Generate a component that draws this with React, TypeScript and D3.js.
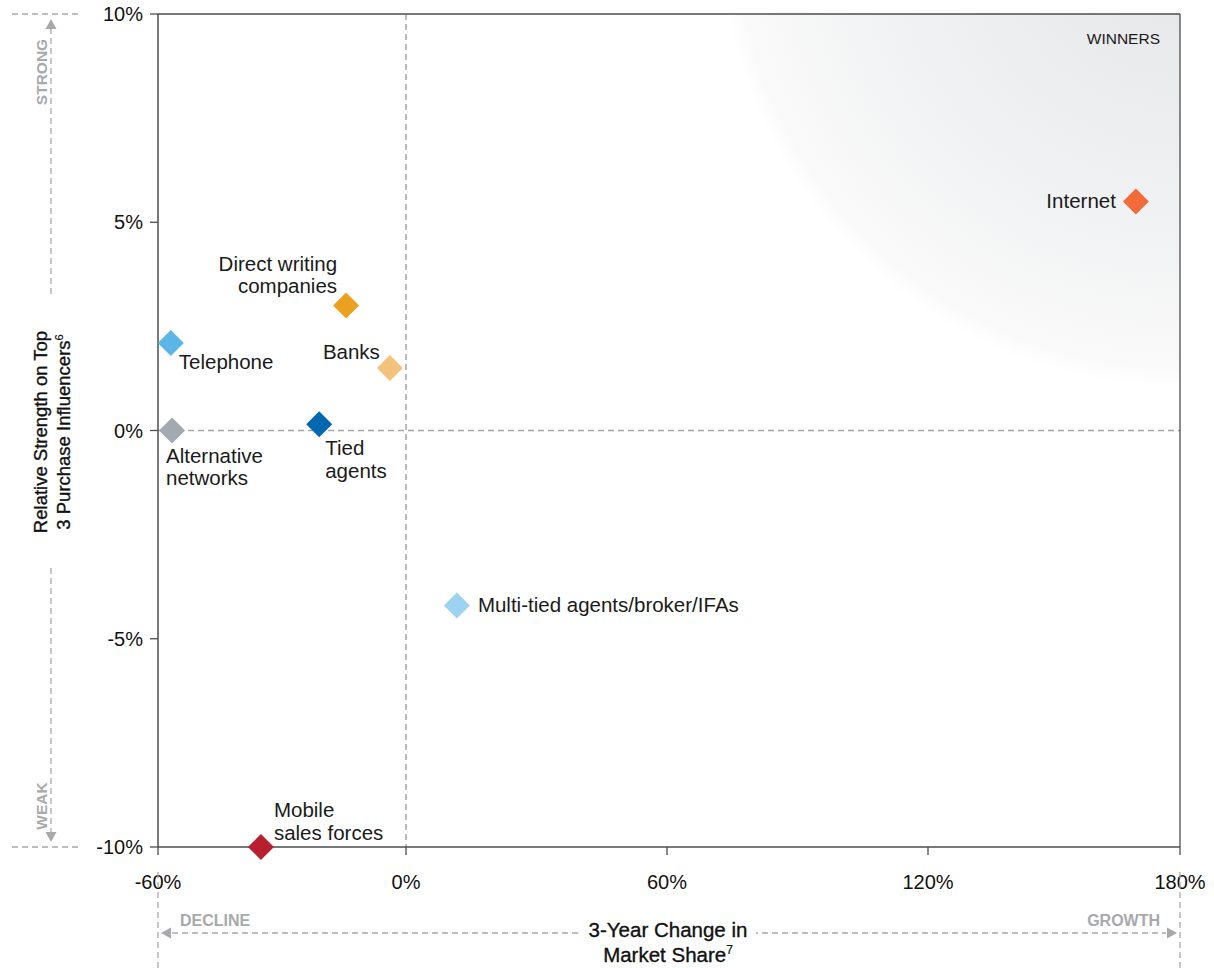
import React from "react";
import * as d3 from "d3";

const channels = [
  "Internet",
  "Direct writing companies",
  "Banks",
  "Telephone",
  "Alternative networks",
  "Tied agents",
  "Multi-tied agents/broker/IFAs",
  "Mobile sales forces",
];
const labelLines = [
  ["Internet"],
  ["Direct writing", "companies"],
  ["Banks"],
  ["Telephone"],
  ["Alternative", "networks"],
  ["Tied", "agents"],
  ["Multi-tied agents/broker/IFAs"],
  ["Mobile", "sales forces"],
];
const marketShareChange = [169.5, -14.5, -3.9, -56.9, -56.6, -21, 11.7, -35.1];
const relativeStrength = [5.5, 3.0, 1.5, 2.1, 0.0, 0.15, -4.2, -10.0];
const colors = ["#F26B38", "#E9A11F", "#F3C37C", "#5BB5E6", "#A2AAB1", "#0067B1", "#9DD2F0", "#B8202F"];
const xTicks = [-60, 0, 60, 120, 180];
const yTicks = [-10, -5, 0, 5, 10];

const W = 1214;
const H = 968;
const L = 158, R = 1180, T = 14, B = 847;
const FONT = "'Liberation Sans', Arial, Helvetica, sans-serif";
const GRAY = "#a7a9ac";

// label placement: anchor, dx, dy (first baseline offset)
const labelPos: [string, number, number][] = [
  ["end", -20, 7],
  ["end", -9, -35],
  ["end", -10, -9],
  ["start", 8, 26],
  ["start", -6, 32],
  ["start", 6, 31],
  ["start", 21, 7],
  ["start", 13, -30],
];

export default function App() {
  const x = d3.scaleLinear().domain(xTicks).range([L, 406, 667, 928, R]);
  const y = d3.scaleLinear().domain([-10, 10]).range([B, T]);
  const diamond = d3.symbol().type(d3.symbolSquare).size(338)();

  return (
    <div style={{ position: "absolute", left: 0, top: 0 }}>
      <svg width={W} height={H} style={{ display: "block", fontFamily: FONT }}>
        <defs>
          <radialGradient id="win" gradientUnits="userSpaceOnUse" cx={1180} cy={-75} r={462}>
            <stop offset="0" stopColor="#e4e5e7" />
            <stop offset="0.35" stopColor="#ebeced" />
            <stop offset="0.7" stopColor="#f2f3f4" />
            <stop offset="0.96" stopColor="#fafafa" />
            <stop offset="1" stopColor="#ffffff" />
          </radialGradient>
          <clipPath id="plot">
            <rect x={L} y={T} width={R - L} height={B - T} />
          </clipPath>
        </defs>
        <rect x={L} y={T} width={R - L} height={B - T} fill="url(#win)" clipPath="url(#plot)" />

        {/* zero lines */}
        <line x1={x(0)} x2={x(0)} y1={T} y2={B} stroke="#a6a6a6" strokeWidth={1.5} strokeDasharray="6,4" />
        <line x1={L} x2={R} y1={y(0)} y2={y(0)} stroke="#a6a6a6" strokeWidth={1.5} strokeDasharray="6,4" />

        {/* frame */}
        <line x1={L} x2={R} y1={T} y2={T} stroke="#4d4d4d" strokeWidth={1.3} />
        <line x1={R} x2={R} y1={T} y2={B} stroke="#4d4d4d" strokeWidth={1.3} />
        <line x1={L} x2={L} y1={T} y2={B} stroke="#4d4d4d" strokeWidth={1.5} />
        <line x1={L} x2={R} y1={B} y2={B} stroke="#4d4d4d" strokeWidth={1.5} />

        {/* y ticks */}
        {yTicks.map((t) => (
          <g key={"y" + t}>
            <line x1={L - 8} x2={L} y1={y(t)} y2={y(t)} stroke="#4d4d4d" strokeWidth={1.3} />
            <text x={L - 15} y={y(t) + 7} textAnchor="end" fontSize={20} fill="#111">
              {t + "%"}
            </text>
          </g>
        ))}
        {/* x ticks */}
        {xTicks.map((t) => (
          <g key={"x" + t}>
            <line x1={x(t)} x2={x(t)} y1={B} y2={B + 8} stroke="#4d4d4d" strokeWidth={1.3} />
            <text x={x(t)} y={B + 42} textAnchor="middle" fontSize={20} fill="#111">
              {t + "%"}
            </text>
          </g>
        ))}

        <text x={1160} y={44} textAnchor="end" fontSize={15.5} fill="#1a1a1a">WINNERS</text>

        {/* points */}
        {channels.map((c, i) => {
          const px = x(marketShareChange[i]);
          const py = y(relativeStrength[i]);
          const [anchor, dx, dy] = labelPos[i];
          return (
            <g key={c}>
              <path d={diamond} transform={`translate(${px},${py}) rotate(45)`} fill={colors[i]} />
              <text x={px + dx} y={py + dy} textAnchor={anchor as any} fontSize={20.5} fill="#1a1a1a">
                {labelLines[i].map((ln, j) => (
                  <tspan key={j} x={px + dx} dy={j === 0 ? 0 : 22.5}>
                    {ln}
                  </tspan>
                ))}
              </text>
            </g>
          );
        })}

        {/* left annotation */}
        <line x1={12} x2={82} y1={T} y2={T} stroke={GRAY} strokeWidth={1.3} strokeDasharray="6,4" />
        <line x1={12} x2={82} y1={B} y2={B} stroke={GRAY} strokeWidth={1.3} strokeDasharray="6,4" />
        <line x1={51} x2={51} y1={28} y2={833} stroke={GRAY} strokeWidth={1.3} strokeDasharray="6,4" />
        <path d={`M51,19 L45.5,29 L56.5,29 Z`} fill={GRAY} />
        <path d={`M51,842 L45.5,832 L56.5,832 Z`} fill={GRAY} />
        <text transform="translate(47,72) rotate(-90)" textAnchor="middle" fontSize={15.5} fontWeight="bold" fill={GRAY}>
          STRONG
        </text>
        <text transform="translate(47,806) rotate(-90)" textAnchor="middle" fontSize={15.5} fontWeight="bold" fill={GRAY}>
          WEAK
        </text>
        <rect x={28} y={296} width={48} height={270} fill="#fff" />
        <text transform="translate(47,432) rotate(-90)" textAnchor="middle" fontSize={18.5} fill="#111" stroke="#111" strokeWidth={0.35}>
          Relative Strength on Top
        </text>
        <text transform="translate(70,432) rotate(-90)" textAnchor="middle" fontSize={18.5} fill="#111" stroke="#111" strokeWidth={0.35}>
          3 Purchase Influencers<tspan fontSize={11} dy={-7} strokeWidth={0.2}>6</tspan>
        </text>

        {/* bottom annotation */}
        <line x1={L} x2={L} y1={872} y2={H} stroke={GRAY} strokeWidth={1.3} strokeDasharray="6,4" />
        <line x1={R} x2={R} y1={872} y2={H} stroke={GRAY} strokeWidth={1.3} strokeDasharray="6,4" />
        <line x1={172} x2={1166} y1={933} y2={933} stroke={GRAY} strokeWidth={1.3} strokeDasharray="6,4" />
        <path d={`M161,933 L171,927.5 L171,938.5 Z`} fill={GRAY} />
        <path d={`M1177,933 L1167,927.5 L1167,938.5 Z`} fill={GRAY} />
        <text x={180} y={926} fontSize={16} fontWeight="bold" fill={GRAY}>DECLINE</text>
        <text x={1160} y={926} textAnchor="end" fontSize={16} fontWeight="bold" fill={GRAY}>GROWTH</text>
        <rect x={580} y={916} width={176} height={52} fill="#fff" />
        <text x={668} y={937} textAnchor="middle" fontSize={20.5} fill="#111" stroke="#111" strokeWidth={0.35}>3-Year Change in</text>
        <text x={668} y={962} textAnchor="middle" fontSize={20.5} fill="#111" stroke="#111" strokeWidth={0.35}>
          Market Share<tspan fontSize={12} dy={-8} strokeWidth={0.2}>7</tspan>
        </text>
      </svg>
    </div>
  );
}
